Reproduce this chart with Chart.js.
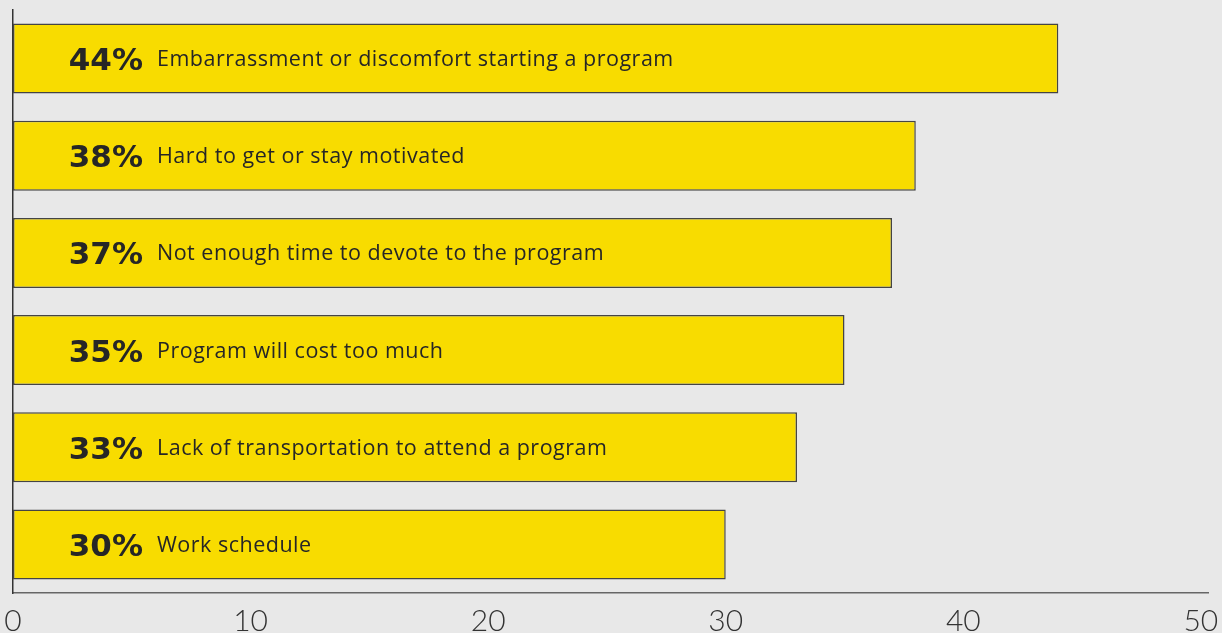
<!DOCTYPE html>
<html>
<head>
<meta charset="utf-8">
<script src="https://cdn.jsdelivr.net/npm/chart.js@4.4.1/dist/chart.umd.min.js"></script>
<style>
  html, body { margin:0; padding:0; background:#e8e8e8; overflow:hidden; }
  #frame { width:1222px; height:633px; overflow:hidden; }
  #wrap { width:1222px; height:641px; position:relative; }
</style>
</head>
<body>
<div id="frame"><div id="wrap"><canvas id="barriers"></canvas></div></div>
<script>
// survey: reasons people give for not joining a program
const reasons = [
  "Embarrassment or discomfort starting a program",
  "Hard to get or stay motivated",
  "Not enough time to devote to the program",
  "Program will cost too much",
  "Lack of transportation to attend a program",
  "Work schedule"
];
const shares = [44, 38, 37, 35, 33, 30];
const axisTicks = [0, 10, 20, 30, 40, 50];

// percentage + reason text painted inside each bar
const barText = {
  id: "barText",
  afterDatasetsDraw(chart){
    const ctx = chart.ctx;
    const meta = chart.getDatasetMeta(0);
    const left = chart.chartArea.left;
    ctx.save();
    ctx.fillStyle = "#262626";
    meta.data.forEach((bar, i) => {
      ctx.textAlign = "right";
      ctx.textBaseline = "alphabetic";
      ctx.letterSpacing = "0px";
      ctx.font = "bold 31px 'DejaVu Sans'";
      ctx.fillText(shares[i] + "%", left + 130, bar.y + 11.5);
      ctx.textAlign = "left";
      ctx.letterSpacing = "0.5px";
      ctx.font = "400 21.5px 'Open Sans'";
      ctx.fillText(reasons[i], left + 144, bar.y + 7.5);
    });
    ctx.restore();
  }
};

new Chart(document.getElementById("barriers"), {
  type: "bar",
  data: {
    labels: reasons,
    datasets: [{
      data: shares,
      backgroundColor: "#f8dc00",
      borderColor: "#444444",
      borderWidth: 1.5,
      borderSkipped: false,
      barPercentage: 0.72,
      categoryPercentage: 1
    }]
  },
  options: {
    indexAxis: "y",
    responsive: true,
    maintainAspectRatio: false,
    animation: false,
    layout: { padding: { top: 10, left: 13, right: 14, bottom: 0 } },
    plugins: {
      legend: { display: false },
      tooltip: { enabled: false }
    },
    scales: {
      x: {
        min: 0,
        max: 50.3,
        afterBuildTicks: axis => { axis.ticks = axisTicks.map(v => ({ value: v })); },
        afterFit: axis => {
          axis.height = 48;
          axis.paddingLeft = 0;
          axis.paddingRight = 0;
        },
        grid: { display: false, drawTicks: false },
        border: { display: true, color: "#666666", width: 1.5 },
        ticks: {
          padding: 10,
          color: "#333333",
          font: { family: "Lato", size: 30, weight: "300", lineHeight: 1.2 }
        }
      },
      y: {
        afterFit: axis => { axis.width = 0; },
        grid: { display: false, drawTicks: false },
        border: { display: true, color: "#333333", width: 1.5 },
        ticks: { display: false }
      }
    }
  },
  plugins: [barText]
});
</script>
</body>
</html>
